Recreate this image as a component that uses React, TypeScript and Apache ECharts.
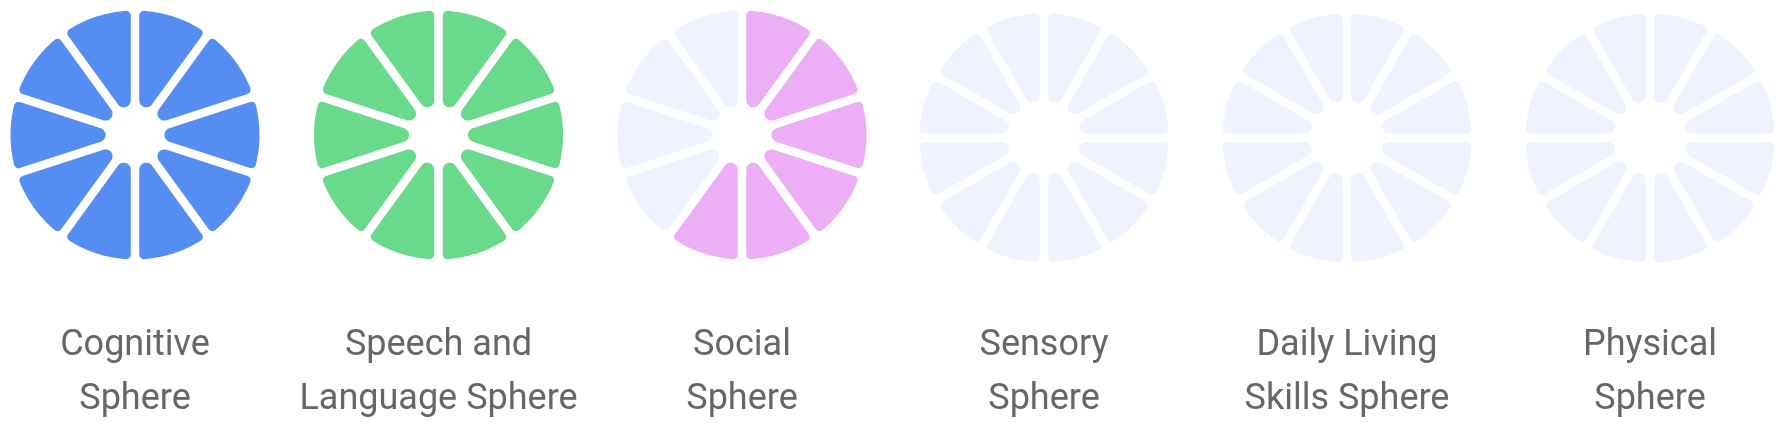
import React, { useEffect, useRef } from "react";
import * as echarts from "echarts";

const categories = [
  "Cognitive\nSphere",
  "Speech and\nLanguage Sphere",
  "Social\nSphere",
  "Sensory\nSphere",
  "Daily Living\nSkills Sphere",
  "Physical\nSphere",
];
const segmentCounts = [10, 10, 10, 12, 12, 12];
const filledCounts = [10, 10, 6, 0, 0, 0];
const fillColors = ["#568DF2", "#69D98B", "#ECAFF5", "#EEF3FF", "#EEF3FF", "#EEF3FF"];
const emptyColor = "#EEF3FF";

// layout (pixels)
const centersX = [135, 438.5, 742, 1044, 1347, 1650];
const OUTER_R = 124.5;
const HALF_GAP = 4.25;
const RC_OUT = 4.5;
const RC_IN = 7;

function renderWedge(params: any, api: any) {
  const k = api.value(1);
  const c = api.coord([0, k]);
  const pS = api.coord([1, k]);
  const pE = api.coord([1, k + 1]);
  const pM = api.coord([1, k + 0.5]);
  const R = Math.hypot(pS[0] - c[0], pS[1] - c[1]);
  const m = Math.atan2(pM[1] - c[1], pM[0] - c[0]);
  const ux = (pS[0] - c[0]) / R, uy = (pS[1] - c[1]) / R;
  const vx = (pE[0] - c[0]) / R, vy = (pE[1] - c[1]) / R;
  const a = Math.acos(Math.max(-1, Math.min(1, ux * vx + uy * vy))) / 2;
  const sa = Math.sin(a), ca = Math.cos(a);
  const h = HALF_GAP + RC_OUT;
  const Rc = R - RC_OUT;
  // local frame: bisector along +x
  const local: number[][] = [];
  // tip arc
  const Cx = (HALF_GAP + RC_IN) / sa;
  const rp = RC_IN - RC_OUT;
  const st = Cx * ca;
  const Pup = [st * ca + h * sa, st * sa - h * ca];
  const Plow = [st * ca + h * sa, -st * sa + h * ca];
  let angUp = Math.atan2(Pup[1], Pup[0] - Cx);
  let angLow = Math.atan2(Plow[1], Plow[0] - Cx);
  if (angLow < angUp) angLow += Math.PI * 2;
  const nTip = 10;
  for (let i = 0; i <= nTip; i++) {
    const t = angUp + ((angLow - angUp) * i) / nTip;
    local.push([Cx + rp * Math.cos(t), rp * Math.sin(t)]);
  }
  // outer arc
  const so = Math.sqrt(Rc * Rc - h * h);
  const Qlow = [so * ca + h * sa, -so * sa + h * ca];
  const phiLow = Math.atan2(Qlow[1], Qlow[0]);
  const phiUp = -phiLow;
  const nArc = 30;
  for (let i = 0; i <= nArc; i++) {
    const t = phiLow + ((phiUp - phiLow) * i) / nArc;
    local.push([Rc * Math.cos(t), Rc * Math.sin(t)]);
  }
  const cm = Math.cos(m), sm = Math.sin(m);
  const points = local.map(([x, y]) => [c[0] + x * cm - y * sm, c[1] + x * sm + y * cm]);
  const color = api.visual("color");
  return {
    type: "polygon",
    shape: { points },
    style: { fill: color, stroke: color, lineWidth: RC_OUT * 2, lineJoin: "round" },
  };
}

export default function App() {
  const ref = useRef<HTMLDivElement>(null);
  useEffect(() => {
    if (!ref.current) return;
    const chart = echarts.init(ref.current, undefined, { renderer: "svg" });
    const polar = categories.map((_, i) => ({
      center: [centersX[i], segmentCounts[i] === 12 ? 138 : 135],
      radius: OUTER_R,
    }));
    const hidden = {
      show: false,
      axisLine: { show: false },
      axisTick: { show: false },
      axisLabel: { show: false },
      splitLine: { show: false },
    };
    const angleAxis = categories.map((_, i) => ({
      polarIndex: i,
      type: "value",
      min: 0,
      max: segmentCounts[i],
      startAngle: 90,
      clockwise: true,
      ...hidden,
    }));
    const radiusAxis = categories.map((_, i) => ({
      polarIndex: i,
      type: "value",
      min: 0,
      max: 1,
      ...hidden,
    }));
    const series = categories.map((name, i) => ({
      type: "custom",
      name: name.replace("\n", " "),
      coordinateSystem: "polar",
      polarIndex: i,
      silent: true,
      encode: { radius: 0, angle: 1 },
      renderItem: renderWedge,
      data: Array.from({ length: segmentCounts[i] }, (_, k) => ({
        value: [1, k],
        itemStyle: { color: k < filledCounts[i] ? fillColors[i] : emptyColor },
      })),
    }));
    const graphic = categories.map((name, i) => ({
      type: "text",
      x: centersX[i],
      y: 316,
      style: {
        text: name,
        fontSize: 36,
        fontFamily: "Roboto",
        fill: "#666666",
        textAlign: "center",
        textVerticalAlign: "top",
        lineHeight: 54,
      },
    }));
    chart.setOption({
      animation: false,
      polar,
      angleAxis,
      radiusAxis,
      series,
      graphic,
    });
    return () => chart.dispose();
  }, []);
  return (
    <div
      ref={ref}
      style={{ position: "fixed", left: 0, top: 0, width: 1785, height: 423 }}
    />
  );
}
